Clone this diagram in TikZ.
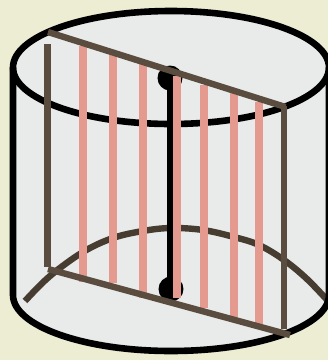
\documentclass[tikz,border=0pt]{standalone}
\definecolor{bgc}{HTML}{EDEDD3}
\definecolor{cyl}{HTML}{E9EBEB}
\definecolor{brownl}{HTML}{5A4D40}
\definecolor{brownd}{HTML}{463C30}
\definecolor{pinkl}{HTML}{E49A8F}
\tikzset{
  rim/.style={draw=black,line width=6.6pt},
  rod/.style={pinkl,line width=8.4pt},
  edgeb/.style={brownl,line width=6.4pt},
}
\begin{document}
\begin{tikzpicture}[x=1pt,y=-1pt]
\useasboundingbox (0,0) rectangle (328,360);
\clip (0,0) rectangle (328,360);
\fill[bgc] (0,0) rectangle (328,360);
% body
\fill[cyl] (13,67.5) arc[start angle=180,end angle=0,x radius=158,y radius=-56.5]
  -- (329,295) arc[start angle=0,end angle=-180,x radius=158,y radius=-56] -- cycle;
% back arc of the base
\draw[brownd,line width=6.4pt] plot[smooth,tension=0.6] coordinates
  {(25,301) (50,276) (83,252) (113,238) (143,231) (171,228) (203,230) (234,237) (259,245) (284,260) (307,279) (329,302)};
% outline
\draw[rim] (171,67.5) ellipse[x radius=158,y radius=56.5];
\draw[rim] (13,67.5) -- (13,295) arc[start angle=180,end angle=360,x radius=158,y radius=-56] -- (329,67.5);
% axis
\fill (170,78) circle[radius=12.5];
\fill (171,289) circle[radius=12.5];
\draw[black,line width=7pt] (170.5,78) -- (170.5,289);
% rods
\draw[rod] (83,46) -- (83,282);
\draw[rod] (113,55) -- (113,283);
\draw[rod] (143,64) -- (143,298);
\draw[rod] (177,76) -- (177,298);
\draw[rod] (204,85) -- (204,308);
\draw[rod] (234,93) -- (234,317);
\draw[rod] (259,102) -- (259,324);
% section
\draw[edgeb] (47.7,44) -- (47.7,267);
\draw[edgeb] (284,106) -- (284,329);
\draw[edgeb] (48,32) -- (285.5,107);
\draw[edgeb] (48,269) -- (290,335);
\end{tikzpicture}
\end{document}
